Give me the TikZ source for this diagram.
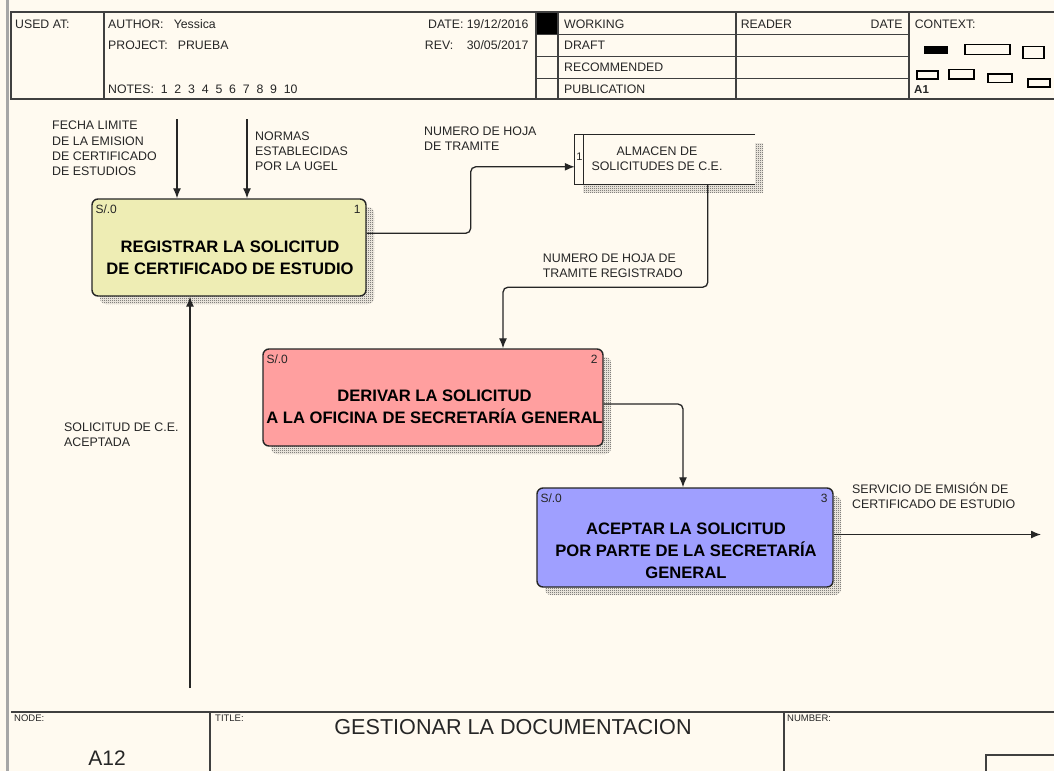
\documentclass[tikz,border=0pt]{standalone}
\usepackage{fontspec}
\setmainfont{Liberation Sans}
\usetikzlibrary{arrows.meta}
\usetikzlibrary{patterns}
\usetikzlibrary{calc}
\definecolor{paper}{RGB}{255,250,240}
\definecolor{boxyellow}{RGB}{238,237,180}
\definecolor{boxred}{RGB}{255,159,159}
\definecolor{boxblue}{RGB}{159,159,255}
\definecolor{frameline}{RGB}{64,64,64}
\pgfdeclarepatternformonly{stipple}{\pgfpointorigin}{\pgfpoint{2pt}{2pt}}{\pgfpoint{2pt}{2pt}}{
 \pgfpathrectangle{\pgfpointorigin}{\pgfpoint{1pt}{1pt}}
 \pgfpathrectangle{\pgfpoint{1pt}{1pt}}{\pgfpoint{1pt}{1pt}}
 \pgfusepath{fill}}

\begin{document}
\begin{tikzpicture}[x=1pt,y=-1pt,
  hdr/.style={anchor=base west, inner sep=0, font=\fontsize{12.3}{14}\selectfont, text=black!85},
  lbl/.style={anchor=north west, inner sep=0, align=left, font=\fontsize{12.4}{15.2}\selectfont, text=black!85},
  shade/.style={preaction={pattern=stipple, pattern color=black!75, transform canvas={xshift=8pt,yshift=-8pt}}},
  act/.style={shade, draw=black!85, line width=1.4pt, rounded corners=6pt},
  ttl/.style={anchor=north, align=center, inner sep=0, font=\fontsize{16.6}{22}\selectfont\bfseries},
  tag/.style={inner sep=0, font=\fontsize{12}{13}\selectfont, text=black!85},
  flow/.style={draw=black!85, line width=1.3pt, rounded corners=5pt, ->, >={Latex[length=10pt,width=8pt]}}]
\fill[paper] (0,0) rectangle (1054,771);
\useasboundingbox (0,0) rectangle (1054,771);
\fill[gray!70] (6,0) rectangle (9,771);

% header
\fill (536,12) rectangle (558,34.3);
\draw[frameline, line width=1.4pt] (1054,12) -- (11,12) -- (11,99) -- (1054,99);
\foreach \x in {104,536,558,736,909}
 \draw[frameline, line width=1.4pt] (\x,12) -- (\x,99);
\foreach \y in {34.3,56.2,78.5}
 \draw[frameline, line width=1.4pt] (536,\y) -- (909,\y);
\node[hdr] (usedat) at (15,28.8) {USED AT:};
\node[hdr] (author) at (108,28.8) {AUTHOR:\ \ \ Yessica};
\node[hdr] (project) at (108,49.8) {PROJECT:\ \ \ PRUEBA};
\node[hdr] (notes) at (108,93.3) {NOTES:\ \ 1\ \ 2\ \ 3\ \ 4\ \ 5\ \ 6\ \ 7\ \ 8\ \ 9\ \ 10};
\node[hdr, anchor=base east] (date) at (528.6,28.8) {DATE: 19/12/2016};
\node[hdr, anchor=base east] (rev) at (528.6,49.8) {REV:\ \ \ \ 30/05/2017};
\foreach \y/\t in {28.8/WORKING,49.8/DRAFT,71.5/RECOMMENDED,93.3/PUBLICATION}
 \node[hdr] (st-\t) at (564,\y) {\t};
\node[hdr] (reader) at (740.6,28.8) {READER};
\node[hdr, anchor=base east] (rdate) at (902.7,28.8) {DATE};
\node[hdr] (context) at (914.6,28.8) {CONTEXT:};
\node[hdr, font=\fontsize{11.5}{12}\selectfont\bfseries] (ctxnode) at (914,93.6) {A1};
\fill (924,45.8) rectangle (948,53.5);
\foreach \a/\b/\c/\d in {965/44.5/1010/54.5, 1023/46.8/1044/58.5, 917/71/938/79, 949/69.5/974/79, 988/74/1012/82.6, 1028/79/1050/87}
 \draw[line width=1.1pt] (\a,\b) rectangle (\c,\d);

% activities
\node[act, fill=boxyellow, minimum width=274, minimum height=97] (reg) at (229,247.5) {};
\node[act, fill=boxred, minimum width=340, minimum height=97] (der) at (433,397.5) {};
\node[act, fill=boxblue, minimum width=296, minimum height=99] (acc) at (685,537.5) {};
\foreach \b/\n in {reg/1,der/2,acc/3} {
 \node[tag, anchor=north west] (\b-s) at ([shift={(4,6.5)}]\b.north west) {S/.0};
 \node[tag, anchor=north east] (\b-n) at ([shift={(-6,6.5)}]\b.north east) {\n};
}
\node[ttl] (reg-t) at (230,240.7) {REGISTRAR LA SOLICITUD\\DE CERTIFICADO DE ESTUDIO};
\node[ttl] (der-t) at (434.5,390) {DERIVAR LA SOLICITUD\\A LA OFICINA DE SECRETARÍA GENERAL};
\node[ttl] (acc-t) at (686,522.8) {ACEPTAR LA SOLICITUD\\POR PARTE DE LA SECRETARÍA\\GENERAL};

% data store
\node[shade, fill=paper, minimum width=180, minimum height=49] (store) at (665,159.5) {};
\draw[black!85, line width=1.3pt] (store.north east) -- (store.north west) -- (store.south west) -- (store.south east);
\draw[black!85, line width=1.3pt] ([xshift=9pt]store.north west) -- ([xshift=9pt]store.south west);
\node[tag, anchor=north, font=\fontsize{11}{12}\selectfont] (store-n) at (579.5,153) {1};
\node[lbl, anchor=north, align=center] (store-t) at (657,146.7) {ALMACEN DE\\SOLICITUDES DE C.E.};

% arrows
\coordinate (in1) at (177,119);
\coordinate (in2) at (247,119);
\coordinate (ctl) at (190,688);
\coordinate (out) at (1041,534.5);
\draw[flow] (in1) -- (in1 |- reg.north);
\draw[flow] (in2) -- (in2 |- reg.north);
\draw[flow] (ctl) -- (ctl |- reg.south);
\draw[flow] ([yshift=-35pt]reg.north east) -- ++(104,0) |- ([yshift=-32pt]store.north west);
\draw[flow] ([xshift=133pt]store.south west) -- ++(0,103) -| ([xshift=70pt]der.north);
\draw[flow] ([yshift=-6.5pt]der.east) -| ([xshift=-2pt]acc.north);
\draw[flow] (acc.east |- out) -- (out);

% labels
\node[lbl] (fecha) at (52,121) {FECHA LIMITE\\DE LA EMISION\\DE CERTIFICADO\\DE ESTUDIOS};
\node[lbl] (normas) at (255,131.7) {NORMAS\\ESTABLECIDAS\\POR LA UGEL};
\node[lbl] (numhoja) at (424,126.7) {NUMERO DE HOJA\\DE TRAMITE};
\node[lbl] (numreg) at (542.7,253.3) {NUMERO DE HOJA DE\\TRAMITE REGISTRADO};
\node[lbl] (aceptada) at (64,422.7) {SOLICITUD DE C.E.\\ACEPTADA};
\node[lbl] (servicio) at (852,482.5) {SERVICIO DE EMISIÓN DE\\CERTIFICADO DE ESTUDIO};

% footer
\draw[frameline, line width=1.8pt] (11,712) -- (1054,712);
\foreach \x in {210,784}
 \draw[frameline, line width=1.4pt] (\x,712) -- (\x,771);
\draw[frameline, line width=1.4pt] (1054,755) -- (986,755) -- (986,771);
\node[hdr, font=\fontsize{9.5}{10}\selectfont] (nodelbl) at (14,721) {NODE:};
\node[hdr, font=\fontsize{9.5}{10}\selectfont] (titlelbl) at (215,721) {TITLE:};
\node[hdr, font=\fontsize{9.5}{10}\selectfont] (numberlbl) at (787,721) {NUMBER:};
\node[hdr, anchor=base, font=\fontsize{21.6}{24}\selectfont] (title) at (513,734) {GESTIONAR LA DOCUMENTACION};
\node[hdr, anchor=base, font=\fontsize{21}{24}\selectfont] (nodenum) at (107,765) {A12};
\end{tikzpicture}
\end{document}
